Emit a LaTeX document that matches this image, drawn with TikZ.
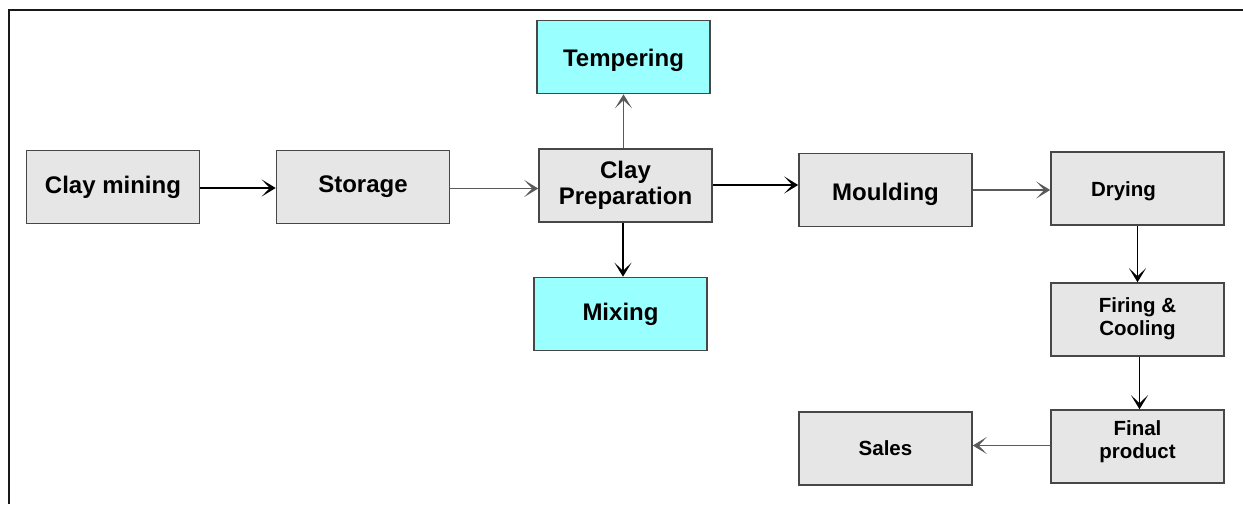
\documentclass[tikz,border=0pt]{standalone}
\usepackage{fontspec}
\setmainfont{Liberation Sans}
\usetikzlibrary{arrows.meta}
\definecolor{boxgray}{HTML}{E6E6E6}
\definecolor{boxcyan}{HTML}{99FFFF}
\definecolor{edgegray}{HTML}{474747}
\definecolor{linegray}{HTML}{5A5A5A}
\tikzset{
  box/.style={draw=edgegray, line width=1.6pt, fill=boxgray, minimum width=173pt, minimum height=73pt, inner sep=0pt, align=center, font=\bfseries\fontsize{24}{26}\selectfont},
  cbox/.style={box, fill=boxcyan},
  sbox/.style={box, font=\bfseries\fontsize{20.5}{23}\selectfont},
  arr/.style={line width=1.6pt, -{Stealth[length=14pt, width=17pt, inset=8pt]}},
  garr/.style={arr, draw=linegray}
}
\begin{document}
\begin{tikzpicture}[x=1pt, y=-1pt]
\useasboundingbox (0,0) rectangle (1243,504);
\draw[line width=2.2pt, draw=black!90] (1243,10) -- (9,10) -- (9,504);
\node[box] (mine) at (113,187) {Clay mining};
\node[box] (stor) at (363,187) {Storage};
\node[box] (prep) at (625.5,185.5) {Clay\\Preparation};
\node[cbox, text height=24.5pt, text depth=5pt] (temp) at (623.5,57) {Tempering};
\node[cbox] (mix) at (620.5,314) {Mixing};
\node[box, text height=25.5pt, text depth=5pt] (mould) at (885.5,190) {Moulding};
\node[sbox, text height=20pt, text depth=4.3pt] (dry) at (1137.5,188.5) {\hspace*{-28pt}Drying};
\node[sbox] (fire) at (1137.5,319.5) {Firing \&\\Cooling\rule[-6pt]{0pt}{1pt}};
\node[sbox] (final) at (1137.5,446.5) {Final\\product\rule[-13pt]{0pt}{1pt}};
\node[sbox] (sales) at (885.5,448.5) {Sales};
\draw[arr] ([yshift=-1pt]mine.east) -- ([yshift=-1pt]mine.east -| stor.west);
\draw[garr] ([yshift=-1.5pt]stor.east) -- ([yshift=-1.5pt]stor.east -| prep.west);
\draw[arr] ([yshift=0.5pt]prep.east) -- ([yshift=0.5pt]prep.east -| mould.west);
\draw[garr] (mould.east) -- (mould.east -| dry.west);
\draw[garr] (prep.north -| temp.south) -- (temp.south);
\draw[arr] ([xshift=-2.5pt]prep.south) -- ([xshift=-2.5pt]prep.south |- mix.north);
\draw[arr] (dry.south) -- (fire.north);
\draw[arr] ([xshift=2pt]fire.south) -- ([xshift=2pt]final.north);
\draw[garr] ([yshift=1pt]final.west) -- ([yshift=1pt]final.west -| sales.east);
\end{tikzpicture}
\end{document}
